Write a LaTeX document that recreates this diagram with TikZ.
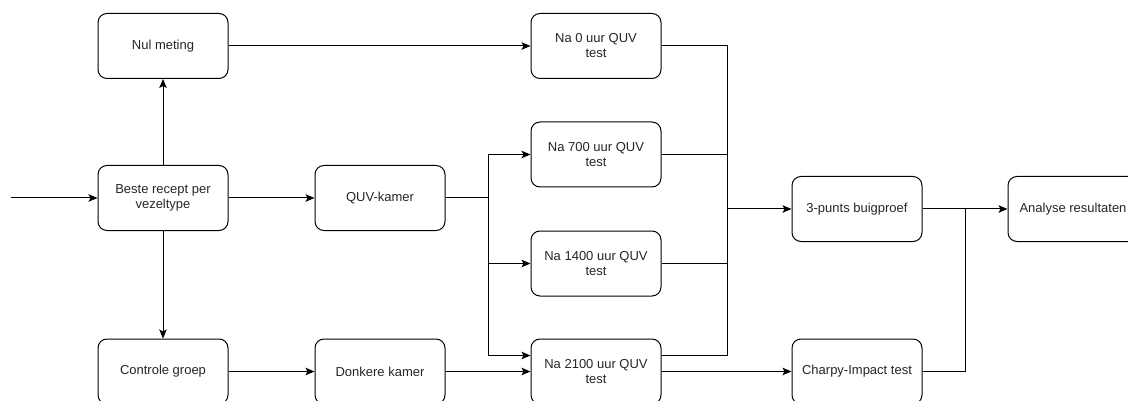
\documentclass[tikz,border=0pt]{standalone}
\usepackage{fontspec}
\setmainfont{Liberation Sans}
\usetikzlibrary{arrows.meta,calc}
\begin{document}
\begin{tikzpicture}[x=1pt,y=-1pt,
  box/.style={draw=black,line width=1pt,rounded corners=9pt,minimum width=130pt,minimum height=65pt,inner sep=0pt,align=center,font=\fontsize{13}{15}\selectfont,text=black!85},
  arr/.style={line width=1pt,draw=black,-{Stealth[length=9pt,width=7.5pt,inset=2pt]}},
  ln/.style={line width=1pt,draw=black}]
\clip (0,0) rectangle (1128,401);
\fill[white] (0,0) rectangle (1128,401);
\node[box] (nul) at (163,46) {Nul meting};
\node[box] (beste) at (163,198) {Beste recept per\\vezeltype};
\node[box] (ctrl) at (163,371.5) {Controle groep};
\node[box] (quv) at (380,198) {QUV-kamer};
\node[box] (donk) at (380,371.5) {Donkere kamer};
\node[box] (na0) at (596,46) {Na 0 uur QUV\\test};
\node[box] (na700) at (596,154.5) {Na 700 uur QUV\\test};
\node[box] (na1400) at (596,263.5) {Na 1400 uur QUV\\test};
\node[box] (na2100) at (596,371.5) {Na 2100 uur QUV\\test};
\node[box] (drie) at (857,209) {3-punts buigproef};
\node[box] (charpy) at (857,371.5) {Charpy-Impact test};
\node[box] (anal) at (1073,209) {Analyse resultaten};
\coordinate (in) at (11,198);
\coordinate (split) at (488,198);
\coordinate (bus) at (727,209);
\coordinate (merge) at (965,209);
\draw[arr] (in) -- (beste.west);
\draw[arr] (beste.north) -- (nul.south);
\draw[arr] (beste.south) -- (ctrl.north);
\draw[arr] (beste.east) -- (quv.west);
\draw[arr] (ctrl.east) -- (donk.west);
\draw[arr] (nul.east) -- (na0.west);
\draw[ln] (quv.east) -- (split);
\draw[arr] (split) |- (na700.west);
\draw[arr] (split) |- (na1400.west);
\draw[arr] (split) |- ([yshift=16pt]na2100.west);
\draw[arr] (donk.east) -- (na2100.west);
\draw[ln] (na0.east) -| (bus);
\draw[ln] ([yshift=16pt]na2100.east) -| (bus);
\draw[ln] (na700.east -| bus) -- (na700.east);
\draw[ln] (na1400.east -| bus) -- (na1400.east);
\draw[arr] (bus) -- (drie.west);
\draw[arr] (na2100.east) -- (charpy.west);
\draw[ln] (drie.east) -- (merge);
\draw[ln] (charpy.east) -| (merge);
\draw[arr] (merge) -- (anal.west);
\end{tikzpicture}
\end{document}
